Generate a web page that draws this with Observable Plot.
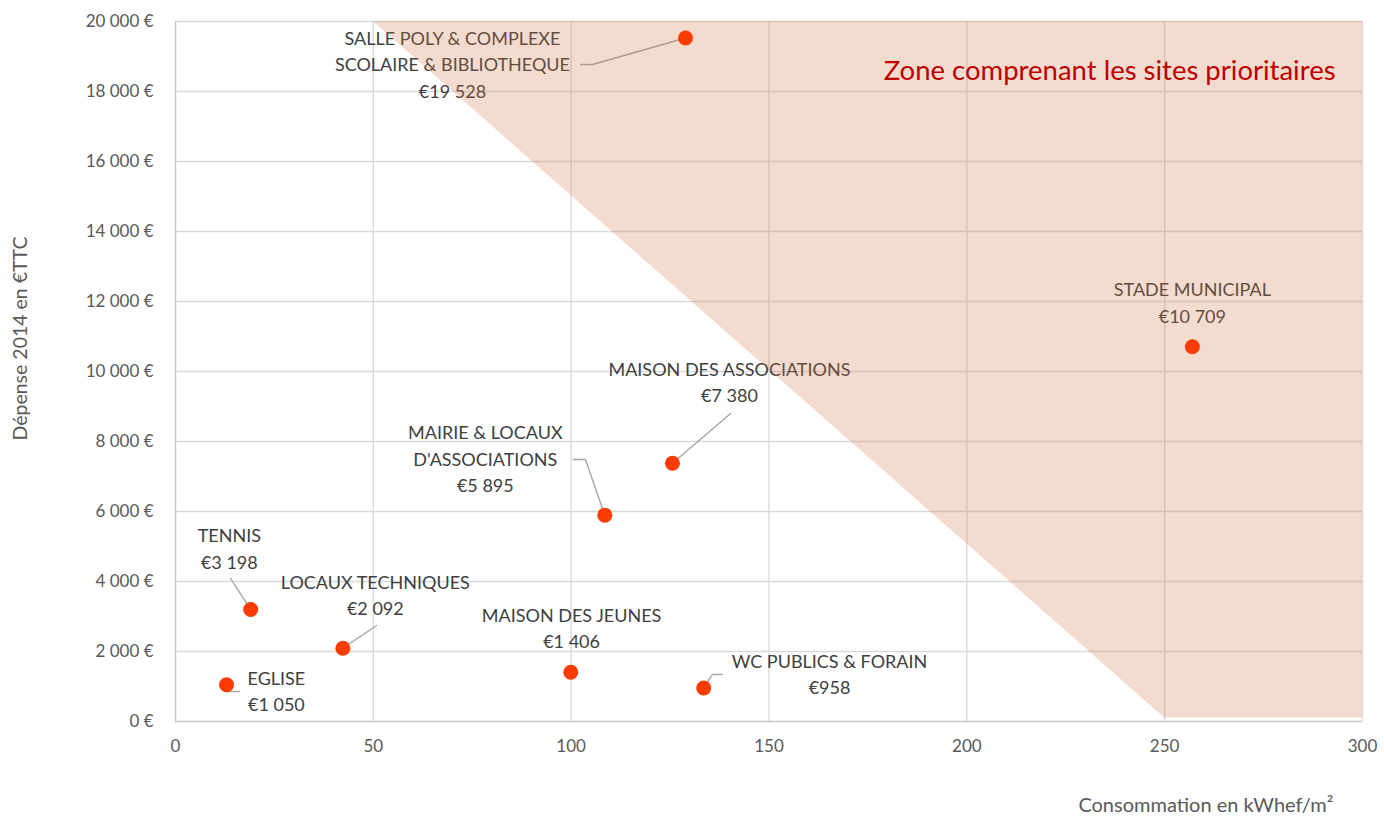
<!DOCTYPE html>
<html>
<head>
<meta charset="utf-8">
<script src="https://cdn.jsdelivr.net/npm/d3@7"></script>
<script src="https://cdn.jsdelivr.net/npm/@observablehq/plot@0.6"></script>
<style>
  html, body { margin: 0; padding: 0; background: #fff; }
  #chart svg { display: block; font-family: Lato, "Open Sans", sans-serif; }
</style>
</head>
<body>
<div id="chart"></div>
<script>
// ---- data ----
const sites = ["EGLISE", "TENNIS", "LOCAUX TECHNIQUES", "MAISON DES JEUNES",
  "MAIRIE & LOCAUX D'ASSOCIATIONS", "MAISON DES ASSOCIATIONS", "WC PUBLICS & FORAIN",
  "SALLE POLY & COMPLEXE SCOLAIRE & BIBLIOTHEQUE", "STADE MUNICIPAL"];
const labelLines = ["EGLISE", "TENNIS", "LOCAUX TECHNIQUES", "MAISON DES JEUNES",
  "MAIRIE & LOCAUX\nD'ASSOCIATIONS", "MAISON DES ASSOCIATIONS", "WC PUBLICS & FORAIN",
  "SALLE POLY & COMPLEXE\nSCOLAIRE & BIBLIOTHEQUE", "STADE MUNICIPAL"];
const conso   = [12.9, 19.0, 42.3, 99.9, 108.5, 125.6, 133.5, 128.9, 257.0];
const depense = [1050, 3198, 2092, 1406, 5895, 7380, 958, 19528, 10709];

// label anchors (data coordinates)
const labelX = [25.5, 13.6, 50.5, 100.1, 78.3, 140.0, 165.3, 70.0, 257.0];
const labelY = [920, 4980, 3650, 2720, 7550, 9750, 1400, 18820, 12010];
// leader lines: start point and optional elbow x (data coordinates)
const leaderX1 = [16.2, 13.9, 50.8, null, 100.6, 140.3, 138.2, 102.4, null];
const leaderY1 = [857, 4086, 2743, null, 7486, 8800, 1343, 18771, null];
const leaderElbowX = [13.1, null, null, null, 103.6, null, 135.7, 105.4, null];

// priority zone
const zoneX  = [50, 250, 300];
const zoneY1 = [20000, 100, 100];
const zoneTop = 20000;
const zoneTitle = "Zone comprenant les sites prioritaires";
const zoneTitleX = 293.2, zoneTitleY = 18571;

const xTicks = [0, 50, 100, 150, 200, 250, 300];
const yTicks = [0, 2000, 4000, 6000, 8000, 10000, 12000, 14000, 16000, 18000, 20000];
const xTitle = "Consommation en kWhef/m²";
const yTitle = "Dépense 2014 en €TTC";

// ---- derived tables ----
const grp = v => d3.format(",")(v).replace(/,/g, " ");
const points = sites.map((s, i) => ({site: s, x: conso[i], y: depense[i],
  label: labelLines[i] + "\n€" + grp(depense[i]), lx: labelX[i], ly: labelY[i]}));
const leaders = [];
sites.forEach((s, i) => {
  if (leaderX1[i] == null) return;
  leaders.push({site: s, x: leaderX1[i], y: leaderY1[i]});
  if (leaderElbowX[i] != null) leaders.push({site: s, x: leaderElbowX[i], y: leaderY1[i]});
  leaders.push({site: s, x: conso[i], y: depense[i]});
});
const zone = zoneX.map((x, i) => ({x, y1: zoneY1[i], y2: zoneTop}));

const chart = Plot.plot({
  width: 1384,
  height: 817,
  marginLeft: 175,
  marginRight: 22,
  marginTop: 21,
  marginBottom: 96,
  x: {domain: [0, 300]},
  y: {domain: [0, 20000]},
  style: {fontFamily: "Lato, 'Open Sans', sans-serif", background: "#fff"},
  marks: [
    Plot.gridX(xTicks.filter(v => v > 0), {stroke: "#d9d9d9", strokeOpacity: 1, strokeWidth: 1.3}),
    Plot.gridY(yTicks.filter(v => v > 0), {stroke: "#d9d9d9", strokeOpacity: 1, strokeWidth: 1.3}),
    Plot.ruleX([0], {stroke: "#c8c8c8", strokeWidth: 1.5}),
    Plot.ruleY([0], {stroke: "#c8c8c8", strokeWidth: 1.5}),
    Plot.line(leaders, {x: "x", y: "y", z: "site", stroke: "#a6a6a6", strokeWidth: 1.4}),
    Plot.text(points, {x: "lx", y: "ly", text: "label", fontSize: 18, fill: "#404040",
      lineHeight: 1.47, lineAnchor: "middle", textAnchor: "middle"}),
    Plot.areaY(zone, {x: "x", y1: "y1", y2: "y2", fill: "#d0753f", fillOpacity: 0.25}),
    Plot.dot(points, {x: "x", y: "y", r: 7.5, fill: "#fa3c00", stroke: "none"}),
    Plot.text([zoneTitle], {x: () => zoneTitleX, y: () => zoneTitleY, text: d => d,
      fontSize: 27.5, fill: "#c00000", textAnchor: "end", lineAnchor: "middle"}),
    Plot.axisX(xTicks, {tickSize: 0, tickPadding: 18, fontSize: 17, fill: "#595959", label: null}),
    Plot.axisY(yTicks, {tickSize: 0, tickPadding: 22, fontSize: 17, fill: "#595959", label: null,
      tickFormat: v => grp(v) + " €"}),
    Plot.text([yTitle], {frameAnchor: "left", dx: -155, dy: -33, rotate: -90, text: d => d,
      fontSize: 19.5, fill: "#595959", lineAnchor: "middle", textAnchor: "middle"}),
    Plot.text([xTitle], {frameAnchor: "bottom-right", dx: -29, dy: 84, text: d => d,
      fontSize: 20, fill: "#595959", textAnchor: "end", lineAnchor: "middle"})
  ]
});
document.getElementById("chart").appendChild(chart);
</script>
</body>
</html>
